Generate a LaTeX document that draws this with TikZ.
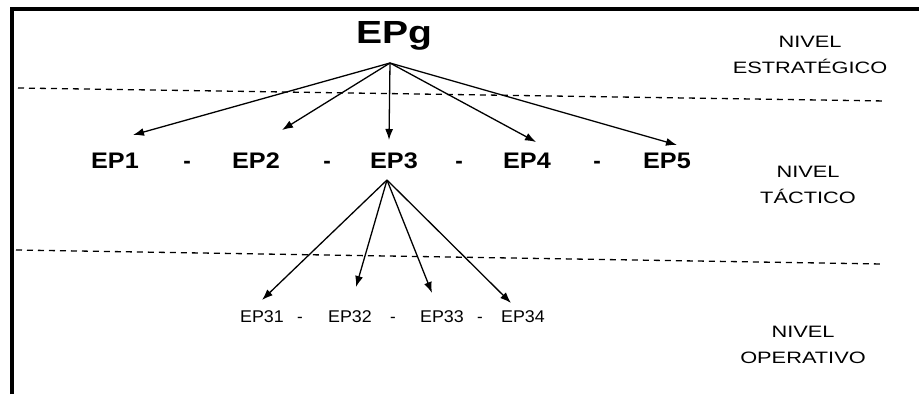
\documentclass[tikz,border=0pt]{standalone}
\usepackage{fontspec}
\setmainfont{Liberation Sans}
\usetikzlibrary{arrows.meta}
\newcommand{\sx}[2]{\scalebox{#1}[1]{#2}}
\tikzset{
  big/.style={font=\fontsize{32}{32}\selectfont\bfseries, inner sep=0pt, anchor=base},
  mid/.style={font=\fontsize{22.5}{22.5}\selectfont\bfseries, inner sep=0pt, anchor=base},
  small/.style={font=\fontsize{17}{17}\selectfont, inner sep=0pt, anchor=base},
  lvl/.style={font=\fontsize{16.5}{26}\selectfont, inner sep=0pt, anchor=base},
  arr/.style={-{Latex[length=11pt,width=8pt]}, line width=1.3pt},
  sep/.style={dash pattern=on 6pt off 5pt, line width=1.3pt},
  frame/.style={line width=4pt}
}
\begin{document}
\begin{tikzpicture}[x=1pt,y=-1pt]
\useasboundingbox (0,0) rectangle (919,394);
\fill[white] (0,0) rectangle (919,394);
% frame
\coordinate (fb) at (12,394);
\coordinate (fc) at (12,9);
\coordinate (fr) at (919,9);
\draw[frame] (fb) -- (fc) -- (fr);
% separators
\coordinate (d1a) at (18,88);
\coordinate (d1b) at (886,101);
\coordinate (d2a) at (16,250);
\coordinate (d2b) at (882,264);
\draw[sep] (d1a) -- (d1b);
\draw[sep] (d2a) -- (d2b);
% top
\node[big] (epg) at (394,43) {\sx{1.22}{EPg}};
% middle row
\node[mid] (ep1) at (115,168) {\sx{1.12}{EP1}};
\node[mid] (h1) at (187,168) {-};
\node[mid] (ep2) at (256,168) {\sx{1.12}{EP2}};
\node[mid] (h2) at (327,168) {-};
\node[mid] (ep3) at (394,168) {\sx{1.12}{EP3}};
\node[mid] (h3) at (459,168) {-};
\node[mid] (ep4) at (527,168) {\sx{1.12}{EP4}};
\node[mid] (h4) at (597,168) {-};
\node[mid] (ep5) at (667,168) {\sx{1.12}{EP5}};
% bottom row
\node[small] (ep31) at (262,322) {\sx{1.05}{EP31}};
\node[small] (h31) at (300,322) {-};
\node[small] (ep32) at (350,322) {\sx{1.05}{EP32}};
\node[small] (h32) at (393,322) {-};
\node[small] (ep33) at (442,322) {\sx{1.05}{EP33}};
\node[small] (h33) at (480,322) {-};
\node[small] (ep34) at (523,322) {\sx{1.05}{EP34}};
% level labels
\node[lvl] (lv1) at (810,47) {\sx{1.32}{\begin{tabular}[t]{@{}c@{}}NIVEL\\ESTRATÉGICO\end{tabular}}};
\node[lvl] (lv2) at (808,177) {\sx{1.32}{\begin{tabular}[t]{@{}c@{}}NIVEL\\TÁCTICO\end{tabular}}};
\node[lvl] (lv3) at (803,337) {\sx{1.32}{\begin{tabular}[t]{@{}c@{}}NIVEL\\OPERATIVO\end{tabular}}};
% arrows from EPg
\coordinate (gfoot) at (390,63);
\coordinate (t1) at (133,135);
\coordinate (t2) at (282,130);
\coordinate (t3) at (389,140);
\coordinate (t4) at (536,142);
\coordinate (t5) at (677,145);
\foreach \t in {t1,t2,t3,t4,t5} \draw[arr] (gfoot) -- (\t);
% arrows from EP3
\coordinate (efoot) at (387,180);
\coordinate (s1) at (262,300);
\coordinate (s2) at (356,287);
\coordinate (s3) at (432,293);
\coordinate (s4) at (511,303);
\foreach \t in {s1,s2,s3,s4} \draw[arr] (efoot) -- (\t);
\end{tikzpicture}
\end{document}
